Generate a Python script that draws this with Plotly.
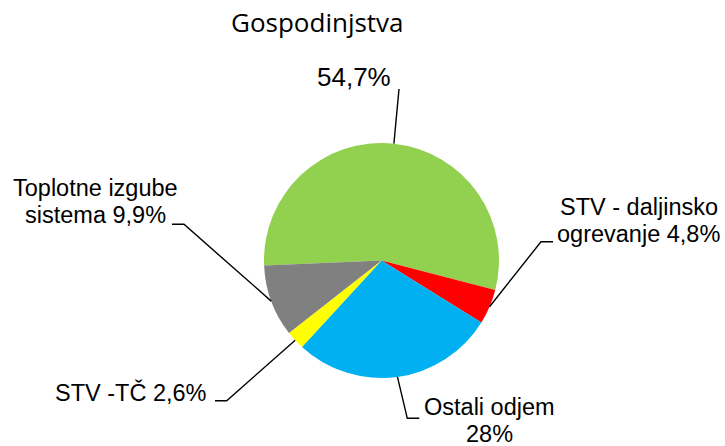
import math
import plotly.graph_objects as go

# --- Data ---
categories = ["Ogrevanje", "STV - daljinsko ogrevanje", "Ostali odjem", "STV -TČ", "Toplotne izgube sistema"]
values = [54.7, 4.8, 28.0, 2.6, 9.9]
colors = ["#92D050", "#FF0000", "#00B0F0", "#FFFF00", "#808080"]
label_lines = [["{p}"],
               ["STV - daljinsko", "ogrevanje {p}"],
               ["Ostali odjem", "{p}"],
               ["STV -TČ {p}"],
               ["Toplotne izgube", "sistema {p}"]]
title_text = "Gospodinjstva"

# --- Layout (pixels, figure is 725 x 446) ---
W, H = 725, 446
CX, CY, R = 381.5, 260.5, 117.5      # pie centre and radius
ROTATION = 267.6                     # first slice starts just below 9 o'clock
label_xy = [(354, 77), (638.5, 207), (489.5, 407), (131, 392.5), (95, 188.5)]
label_size = [26, 23.5, 23.5, 23.5, 23.5]
LINE_GAP = 26.5
leader_elbow = [(399, 89), (541, 241.7), (407.3, 418.3), (226.7, 400.7), (184, 224.3)]
leader_end = [(399, 89), (553, 241.7), (419.3, 418.3), (215, 400.7), (172, 224.3)]


def px(x):
    return x / W


def py(y):
    return 1 - y / H


def pct(v):
    return f"{v:g}".replace(".", ",") + "%"


fig = go.Figure()
fig.add_trace(go.Pie(
    labels=categories,
    values=values,
    sort=False,
    direction="clockwise",
    rotation=ROTATION,
    marker=dict(colors=colors, line=dict(width=0)),
    textinfo="none",
    hoverinfo="label+percent",
    showlegend=False,
    domain=dict(x=[px(CX - R), px(CX + R)], y=[py(CY + R), py(CY - R)]),
))

# --- Labels and leader lines ---
total = sum(values)
cum = 0
for i, v in enumerate(values):
    mid = math.radians(ROTATION + 360 * (cum + v / 2) / total)
    cum += v
    ex, ey = CX + R * math.sin(mid), CY - R * math.cos(mid)
    (bx, by), (tx, ty) = leader_elbow[i], leader_end[i]
    fig.add_shape(type="path",
                  path=f"M {px(ex)} {py(ey)} L {px(bx)} {py(by)} L {px(tx)} {py(ty)}",
                  xref="paper", yref="paper",
                  line=dict(color="black", width=1.4))

    lx, ly = label_xy[i]
    for k, line in enumerate(label_lines[i]):
        fig.add_annotation(x=px(lx), y=py(ly + k * LINE_GAP), xref="paper", yref="paper",
                           text=line.format(p=pct(v)), showarrow=False,
                           xanchor="center", yanchor="middle",
                           font=dict(family="Liberation Sans, Arial", size=label_size[i], color="black"))

fig.add_annotation(x=px(317), y=py(22), xref="paper", yref="paper",
                   text=title_text, showarrow=False, xanchor="center", yanchor="middle",
                   font=dict(family="Open Sans", size=26, color="black"))

fig.update_layout(
    width=W, height=H,
    margin=dict(l=0, r=0, t=0, b=0),
    paper_bgcolor="white",
    plot_bgcolor="white",
)

# drop the browser's default page margin so the figure fills the window
fig.write_html("out.html", config={"displayModeBar": False},
               post_script="document.body.style.margin = '0';")
